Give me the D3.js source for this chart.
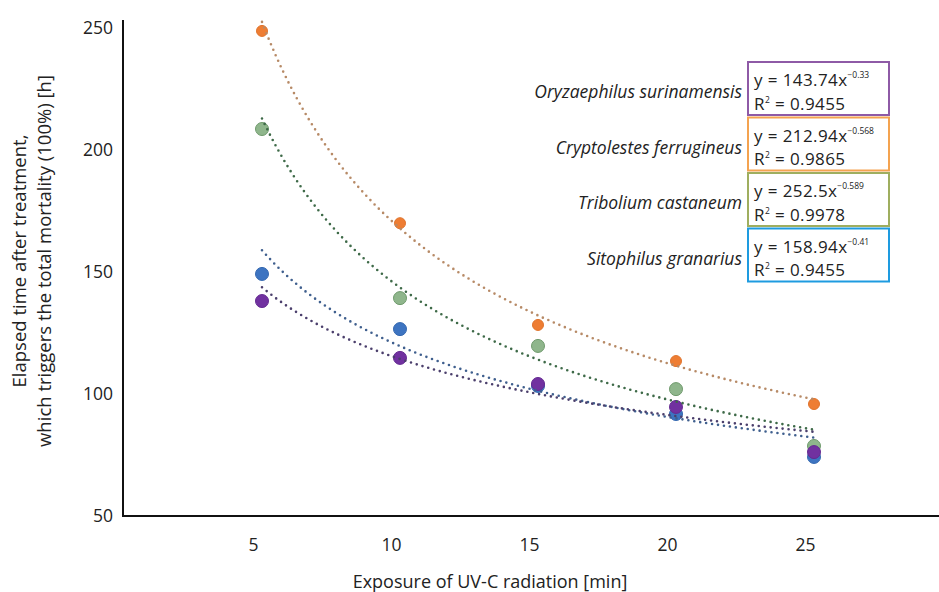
<!DOCTYPE html>
<html lang="en">
<meta charset="UTF-8">
<title>UV-C exposure and mortality</title>
<style>
body {margin:0; background:#fff}
text {font-family: "Open Sans", sans-serif; fill:#222}
</style>
<body>
<div id="chart"></div>
<script src="https://d3js.org/d3.v7.min.js"></script>
<script>
// data
var exposure = [5, 10, 15, 20, 25];
var xTicks = [5, 10, 15, 20, 25];
var yTicks = [50, 100, 150, 200, 250];

var orangeValues = [248.8, 170, 128.3, 113.5, 95.9];
var greenValues  = [208.6, 139.3, 119.7, 102, 78.7];
var blueValues   = [149.2, 126.6, 103.3, 91.8, 74.2];
var purpleValues = [138.1, 114.8, 104.1, 94.7, 76.2];

// trendline equations y = a * x^b (x = measurement index 1..5)
var trendA = [252.5, 212.94, 158.94, 143.74];
var trendB = [-0.589, -0.568, -0.41, -0.33];

// legend boxes, top to bottom
var legendNames = ["Oryzaephilus surinamensis", "Cryptolestes ferrugineus", "Tribolium castaneum", "Sitophilus granarius"];
var legendA = ["143.74", "212.94", "252.5", "158.94"];
var legendB = ["\u22120.33", "\u22120.568", "\u22120.589", "\u22120.41"];
var legendR2 = ["0.9455", "0.9865", "0.9978", "0.9455"];
var legendColors = ["#8e5aa6", "#f4a350", "#9fae5f", "#1e9be0"];

var series = [
  {values: orangeValues, fill: "#ee7d33", stroke: "#e0732b", r: 5.5, line: "#b78a66"},
  {values: greenValues,  fill: "#8fb68c", stroke: "#6f9a6c", r: 6.5, line: "#3e6a48"},
  {values: blueValues,   fill: "#3d74c1", stroke: "#3468b0", r: 6.5, line: "#3f5f8e"},
  {values: purpleValues, fill: "#7131a0", stroke: "#652a92", r: 6.5, line: "#4b3f6c"}
];

var W = 939, H = 592;
var svg = d3.select("#chart").append("svg")
    .attr("width", W)
    .attr("height", H);

var x = d3.scaleLinear().domain([5, 25]).range([262, 814]);
var y = d3.scaleLinear().domain([50, 250]).range([516, 28]);

// axes
svg.append("line")
  .attr("x1", 123).attr("x2", 123)
  .attr("y1", y(50)).attr("y2", y(253.3))
  .attr("stroke", "#111").attr("stroke-width", 2);
svg.append("line")
  .attr("x1", 122).attr("x2", W)
  .attr("y1", y(50)).attr("y2", y(50))
  .attr("stroke", "#111").attr("stroke-width", 2);

var yAxis = svg.append("g")
  .attr("transform", "translate(123,0)")
  .call(d3.axisLeft(y).tickValues(yTicks).tickSize(0).tickPadding(10));
yAxis.select(".domain").remove();
yAxis.selectAll("text").style("font-size", "17.5px").style("fill", "#222")
  .style("font-family", "'Open Sans', sans-serif");

var xAxis = svg.append("g")
  .attr("transform", "translate(0," + y(50) + ")")
  .call(d3.axisBottom(x).tickValues(xTicks).tickSize(0).tickPadding(23));
xAxis.select(".domain").remove();
xAxis.selectAll("text").attr("dx", -9).style("font-size", "17.5px").style("fill", "#222")
  .style("font-family", "'Open Sans', sans-serif");

// axis titles
svg.append("text")
  .attr("x", 490).attr("y", 588)
  .attr("text-anchor", "middle")
  .style("font-size", "18px")
  .text("Exposure of UV-C radiation [min]");

var yt = svg.append("text")
  .attr("transform", "translate(0,261) rotate(-90)")
  .attr("text-anchor", "middle")
  .style("font-size", "18.5px");
yt.append("tspan").attr("x", 0).attr("y", 26).text("Elapsed time after treatment,");
yt.append("tspan").attr("x", 0).attr("y", 51).text("which triggers the total mortality (100%) [h]");

// points
series.forEach(function(s) {
  svg.append("g").selectAll("circle")
    .data(s.values)
    .enter().append("circle")
      .attr("cx", function(d, i) { return x(exposure[i]); })
      .attr("cy", function(d) { return y(d); })
      .attr("r", s.r)
      .attr("fill", s.fill)
      .attr("stroke", s.stroke)
      .attr("stroke-width", 1);
});

// dotted power trendlines
var samples = d3.range(5, 25.01, 0.25);
series.forEach(function(s, k) {
  var line = d3.line()
    .x(function(d) { return x(d); })
    .y(function(d) { return y(trendA[k] * Math.pow(d / 5, trendB[k])); })
    .curve(d3.curveMonotoneX);
  svg.append("path")
    .datum(samples)
    .attr("d", line)
    .attr("fill", "none")
    .attr("stroke", s.line)
    .attr("stroke-width", 2.6)
    .attr("stroke-linecap", "round")
    .attr("stroke-dasharray", "0,6");
});

// legend with equations
var lg = svg.append("g");
legendNames.forEach(function(name, i) {
  var top = 62 + i * 55.5;
  lg.append("rect")
    .attr("x", 748).attr("y", top)
    .attr("width", 141).attr("height", 53)
    .attr("fill", "#fff")
    .attr("stroke", legendColors[i]).attr("stroke-width", 2);
  lg.append("text")
    .attr("x", 742).attr("y", top + 36)
    .attr("text-anchor", "end")
    .style("font-size", "17.5px").style("font-style", "italic")
    .text(name);
  var eq = lg.append("text")
    .attr("x", 754).attr("y", top + 24)
    .style("font-size", "17px")
    .style("letter-spacing", "0.4px");
  eq.append("tspan").text("y = " + legendA[i] + "x");
  eq.append("tspan").attr("dy", -8).style("font-size", "8.5px")
    .style("letter-spacing", "0px").text(legendB[i]);
  var r2 = lg.append("text")
    .attr("x", 754).attr("y", top + 47.5)
    .style("font-size", "17px")
    .style("letter-spacing", "0.4px");
  r2.append("tspan").text("R");
  r2.append("tspan").attr("dy", -7).style("font-size", "8.5px").text("2");
  r2.append("tspan").attr("dy", 7).text(" = " + legendR2[i]);
});
</script>
</body>
</html>
